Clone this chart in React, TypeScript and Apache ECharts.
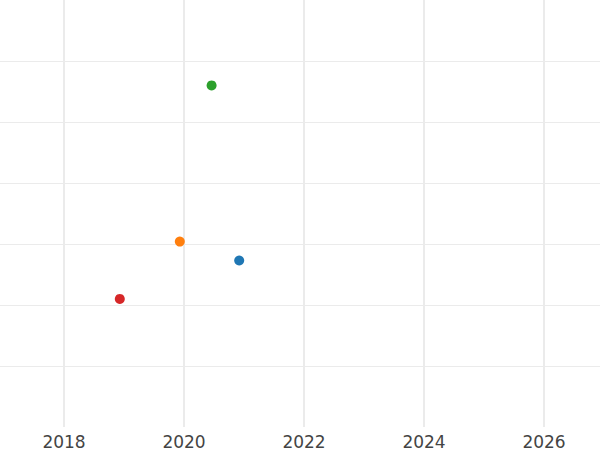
import React, { useEffect, useRef } from "react";
import * as echarts from "echarts";

const seriesNames = ["A", "B", "C", "D"];
const xValues = [2020.92, 2019.93, 2020.46, 2018.93];
const yValues = [2.73, 3.04, 5.6, 2.1];
const colors = ["#1f77b4", "#ff7f0e", "#2ca02c", "#d62728"];

export default function App() {
  const ref = useRef<HTMLDivElement>(null);
  useEffect(() => {
    if (!ref.current) return;
    const chart = echarts.init(ref.current, null, { renderer: "svg" });
    chart.setOption({
      animation: false,
      grid: {
        left: -56,
        top: 0,
        width: 720,
        height: 427,
        containLabel: false,
        outerBoundsMode: "none",
      },
      xAxis: {
        type: "value",
        min: 2016,
        max: 2028,
        interval: 2,
        axisLine: { show: false },
        axisTick: { show: false },
        axisLabel: {
          color: "#444",
          fontSize: 17,
          fontFamily: "DejaVu Sans",
          margin: 6,
          showMinLabel: false,
          showMaxLabel: false,
          formatter: (v: number) => String(v),
        },
        splitLine: {
          show: true,
          showMinLine: false,
          showMaxLine: false,
          lineStyle: { color: "#ebebeb", width: 2 },
        },
      },
      yAxis: {
        type: "value",
        min: 0,
        max: 7,
        interval: 1,
        axisLine: { show: false },
        axisTick: { show: false },
        axisLabel: { show: false },
        splitLine: {
          show: true,
          showMinLine: false,
          showMaxLine: false,
          lineStyle: { color: "#ebebeb", width: 1 },
        },
      },
      series: seriesNames.map((name, i) => ({
        name,
        type: "scatter",
        symbolSize: 10,
        itemStyle: { color: colors[i], opacity: 1 },
        data: [[xValues[i], yValues[i]]],
      })),
    });
    return () => chart.dispose();
  }, []);
  return <div ref={ref} style={{ width: 600, height: 450, position: "absolute", left: 0, top: 0 }} />;
}
